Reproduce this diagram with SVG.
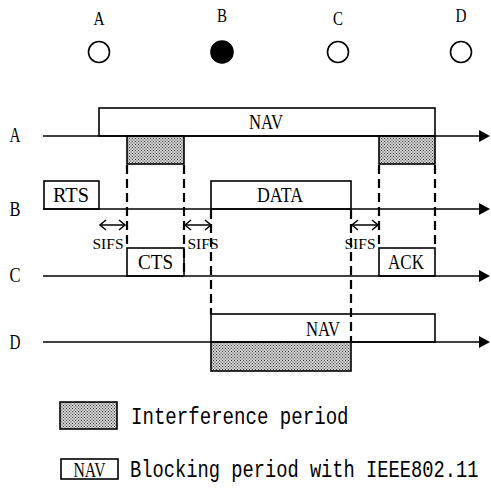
<svg xmlns="http://www.w3.org/2000/svg" width="491" height="491" viewBox="0 0 491 491">
<defs>
<style>
.t{font-family:"Liberation Serif",serif;fill:#000}
.m{font-family:"Liberation Mono",monospace;fill:#000;font-size:23px}
.ln{stroke:#000;stroke-width:1.6;fill:none}
.bx{stroke:#000;stroke-width:1.6;fill:#fff}
.hx{stroke:#000;stroke-width:1.6;fill:url(#hatch)}
.ds{stroke:#000;stroke-width:2.2;stroke-dasharray:9,5;fill:none}
.sa{stroke:#000;stroke-width:1.5;fill:none}
</style>
<pattern id="hatch" width="3" height="3" patternUnits="userSpaceOnUse">
<rect width="3" height="3" fill="#cfcfcf"/>
<rect x="0" y="0" width="1" height="1" fill="#444"/>
<rect x="1.5" y="1.5" width="1" height="1" fill="#444"/>
</pattern>
<marker id="arr" markerUnits="userSpaceOnUse" markerWidth="12" markerHeight="12" refX="0" refY="6" orient="auto" overflow="visible">
<path d="M0,0 L11,6 L0,12 z" fill="#000"/>
</marker>
<marker id="chev" markerUnits="userSpaceOnUse" markerWidth="8" markerHeight="12" refX="6" refY="6" orient="auto-start-reverse" overflow="visible">
<path d="M0,1 L6,6 L0,11" fill="none" stroke="#000" stroke-width="1.5"/>
</marker>
</defs>
<rect width="491" height="491" fill="#fff"/>

<g id="stations">
<g id="station-A"><text class="t" x="99" y="25" font-size="19" text-anchor="middle" textLength="11" lengthAdjust="spacingAndGlyphs">A</text><circle cx="99" cy="52" r="10.5" fill="#fff" stroke="#000" stroke-width="1.6"/></g>
<g id="station-B"><text class="t" x="222" y="22" font-size="19" text-anchor="middle" textLength="10" lengthAdjust="spacingAndGlyphs">B</text><circle cx="222" cy="52" r="11" fill="#000" stroke="#000" stroke-width="1.6"/></g>
<g id="station-C"><text class="t" x="338" y="25" font-size="19" text-anchor="middle" textLength="10" lengthAdjust="spacingAndGlyphs">C</text><circle cx="338" cy="52" r="10.5" fill="#fff" stroke="#000" stroke-width="1.6"/></g>
<g id="station-D"><text class="t" x="461" y="22" font-size="19" text-anchor="middle" textLength="11" lengthAdjust="spacingAndGlyphs">D</text><circle cx="461" cy="52" r="10.5" fill="#fff" stroke="#000" stroke-width="1.6"/></g>
</g>

<g id="row-labels">
<text class="t" x="15" y="142" font-size="20" text-anchor="middle" textLength="11" lengthAdjust="spacingAndGlyphs">A</text>
<text class="t" x="15" y="216" font-size="20" text-anchor="middle" textLength="11" lengthAdjust="spacingAndGlyphs">B</text>
<text class="t" x="15" y="282" font-size="20" text-anchor="middle" textLength="11" lengthAdjust="spacingAndGlyphs">C</text>
<text class="t" x="15" y="349" font-size="20" text-anchor="middle" textLength="11" lengthAdjust="spacingAndGlyphs">D</text>
</g>

<g id="boxes">
<g id="nav-A"><rect class="bx" x="99" y="108" width="336" height="28"/><text class="t" x="266" y="129" font-size="21" text-anchor="middle" textLength="34" lengthAdjust="spacingAndGlyphs">NAV</text></g>
<g id="int-A1"><rect class="hx" x="127" y="136" width="57" height="28"/></g>
<g id="int-A2"><rect class="hx" x="379" y="136" width="56" height="28"/></g>
<g id="rts"><rect class="bx" x="44" y="181" width="55" height="28"/><text class="t" x="71" y="202" font-size="21" text-anchor="middle" textLength="36" lengthAdjust="spacingAndGlyphs">RTS</text></g>
<g id="data"><rect class="bx" x="211" y="181" width="140" height="28"/><text class="t" x="280" y="202" font-size="21" text-anchor="middle" textLength="46" lengthAdjust="spacingAndGlyphs">DATA</text></g>
<g id="cts"><rect class="bx" x="127" y="248" width="57" height="28"/><text class="t" x="155.5" y="269" font-size="21" text-anchor="middle" textLength="35" lengthAdjust="spacingAndGlyphs">CTS</text></g>
<g id="ack"><rect class="bx" x="379" y="248" width="56" height="28"/><text class="t" x="406" y="269" font-size="21" text-anchor="middle" textLength="36" lengthAdjust="spacingAndGlyphs">ACK</text></g>
<g id="nav-D"><rect class="bx" x="211" y="314" width="224" height="28"/><text class="t" x="323" y="336" font-size="21" text-anchor="middle" textLength="34" lengthAdjust="spacingAndGlyphs">NAV</text></g>
<g id="int-D"><rect class="hx" x="211" y="342" width="140" height="29"/></g>
</g>

<g id="connectors">
<line class="ln" x1="43" y1="136" x2="479" y2="136" marker-end="url(#arr)"/>
<line class="ln" x1="43" y1="209" x2="479" y2="209" marker-end="url(#arr)"/>
<line class="ln" x1="43" y1="276" x2="479" y2="276" marker-end="url(#arr)"/>
<line class="ln" x1="43" y1="342" x2="479" y2="342" marker-end="url(#arr)"/>
<line class="ds" x1="127" y1="165" x2="127" y2="248"/>
<line class="ds" x1="184" y1="165" x2="184" y2="276"/>
<line class="ds" x1="379" y1="165" x2="379" y2="248"/>
<line class="ds" x1="435" y1="165" x2="435" y2="248"/>
<line class="ds" x1="211" y1="210" x2="211" y2="314"/>
<line class="ds" x1="351" y1="210" x2="351" y2="342"/>
<line class="sa" x1="100" y1="225" x2="125" y2="225" marker-start="url(#chev)" marker-end="url(#chev)"/>
<line class="sa" x1="185" y1="225" x2="211" y2="225" marker-start="url(#chev)" marker-end="url(#chev)"/>
<line class="sa" x1="352" y1="225" x2="378" y2="225" marker-start="url(#chev)" marker-end="url(#chev)"/>
</g>

<g id="sifs-labels">
<text class="t" x="108" y="249" font-size="15" text-anchor="middle" textLength="31" lengthAdjust="spacingAndGlyphs">SIFS</text>
<text class="t" x="203" y="249" font-size="15" text-anchor="middle" textLength="31" lengthAdjust="spacingAndGlyphs">SIFS</text>
<text class="t" x="360" y="249" font-size="15" text-anchor="middle" textLength="31" lengthAdjust="spacingAndGlyphs">SIFS</text>
</g>

<g id="legend">
<g id="legend-int"><rect class="hx" x="60" y="402" width="57" height="27"/><text class="m" transform="translate(131,424) scale(0.83,1)">Interference period</text></g>
<g id="legend-nav"><rect class="bx" x="61" y="459" width="57" height="20"/><text class="t" x="89.5" y="477" font-size="20" text-anchor="middle" textLength="32" lengthAdjust="spacingAndGlyphs">NAV</text><text class="m" transform="translate(130,477) scale(0.815,1)">Blocking period with IEEE802.11</text></g>
</g>
</svg>
